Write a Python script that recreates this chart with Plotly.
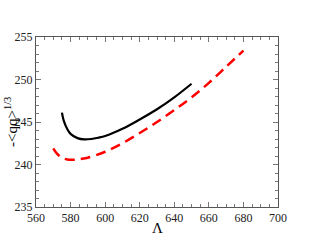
import plotly.graph_objects as go

black_x = [575, 576, 578, 580, 584, 588, 592, 596, 600, 610, 620, 630, 640, 650]
black_y = [246.1, 245.2, 244.2, 243.6, 243.1, 242.95, 243.0, 243.15, 243.35, 244.2, 245.3, 246.5, 247.9, 249.5]

red_x = [570, 572, 575, 578, 582, 586, 590, 600, 610, 620, 630, 640, 650, 660, 670, 680]
red_y = [241.9, 241.3, 240.8, 240.6, 240.55, 240.65, 240.8, 241.5, 242.5, 243.7, 245.0, 246.4, 247.9, 249.6, 251.5, 253.4]

x_ticks = [560, 580, 600, 620, 640, 660, 680, 700]
y_ticks = [235, 240, 245, 250, 255]

fig = go.Figure()
fig.add_trace(go.Scatter(x=black_x, y=black_y, mode="lines", line=dict(color="black", width=2.2, shape="spline"), showlegend=False))
fig.add_trace(go.Scatter(x=red_x, y=red_y, mode="lines", line=dict(color="#ff0000", width=2.5, dash="10px,6px", shape="spline"), showlegend=False))

axis_common = dict(
    showgrid=False, zeroline=False, showline=True, linecolor="#555", linewidth=1,
    mirror="allticks", ticks="inside", ticklen=5, tickcolor="#777", tickwidth=1,
    automargin=False,
    tickfont=dict(family="Liberation Serif", size=12, color="#222"),
)
fig.update_xaxes(range=[560, 700], tickvals=x_ticks, ticktext=[str(v) for v in x_ticks],
                 minor=dict(dtick=5, ticks="inside", ticklen=3, tickcolor="#777"),
                 **axis_common)
fig.update_yaxes(range=[235, 255], tickvals=y_ticks, ticktext=[str(v) for v in y_ticks],
                 minor=dict(dtick=1, ticks="inside", ticklen=3, tickcolor="#777"),
                 **axis_common)

fig.add_annotation(text="Λ", xref="paper", yref="paper",
                   x=0.5, y=-21/170, xanchor="center", yanchor="middle",
                   showarrow=False, font=dict(family="Liberation Serif", size=15, color="black"))
fig.add_annotation(text="-&lt;qq&gt;<sup>1/3</sup>", xref="paper", yref="paper",
                   x=-36/242, y=0.5, xanchor="left", yanchor="middle", textangle=-90,
                   showarrow=False, font=dict(family="Liberation Serif", size=15, color="black"))

fig.update_layout(width=314, height=243, margin=dict(l=36, r=36, t=37, b=36),
                  paper_bgcolor="white", plot_bgcolor="white")
fig.write_html("out.html", config={"displayModeBar": False},
               post_script="document.body.style.margin='0';document.body.style.overflow='hidden';")
